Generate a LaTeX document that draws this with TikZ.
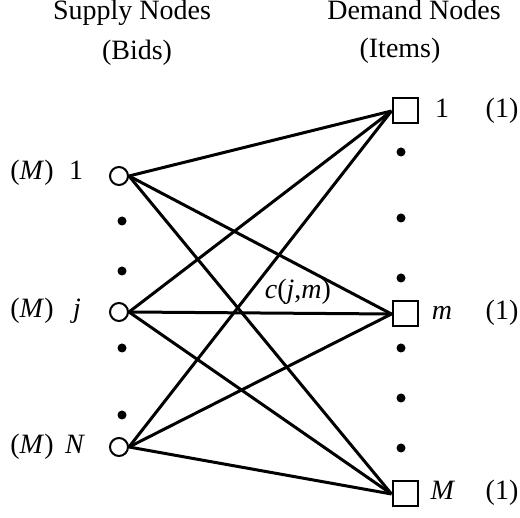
\documentclass[tikz,border=0pt]{standalone}
\usepackage{fontspec}
\setmainfont{Liberation Serif}
\usetikzlibrary{positioning}

\begin{document}
\begin{tikzpicture}[x=0.5pt,y=-0.5pt,
    font=\fontsize{14}{16}\selectfont,
    lab/.style={inner sep=0pt,text height=0.75em,text depth=0.25em},
    supply/.style={circle,draw,line width=1pt,minimum size=9pt,inner sep=0pt},
    demand/.style={rectangle,draw,line width=1pt,minimum size=12.5pt,inner sep=0pt},
    dotmark/.style={circle,fill,inner sep=0pt,minimum size=4.5pt},
    link/.style={line width=1.5pt}]
    \useasboundingbox (0,0) rectangle (520,518);

    % Column headings
    \node[lab] (supplyhead) at (132,15) {Supply Nodes};
    \node[lab] (bidshead) at (137,55) {(Bids)};
    \node[lab] (demandhead) at (414,15) {Demand Nodes};
    \node[lab] (itemshead) at (400,53) {(Items)};

    % Supply nodes (bids)
    \node[supply] (s1) at (119,176) {};
    \node[supply] (sj) at (119,312) {};
    \node[supply] (sN) at (119,447) {};
    \node[lab] (s1cap) at (32,175) {(\textit{M})};
    \node[lab] (s1num) at (76,175) {1};
    \node[lab] (sjcap) at (32,313) {(\textit{M})};
    \node[lab] (sjnum) at (77,313) {\textit{j}};
    \node[lab] (sNcap) at (32,448) {(\textit{M})};
    \node[lab] (sNnum) at (75,448) {\textit{N}};

    % Dots between supply nodes
    \node[dotmark] (ldot1) at (122,221) {};
    \node[dotmark] (ldot2) at (122,271) {};
    \node[dotmark] (ldot3) at (122,348) {};
    \node[dotmark] (ldot4) at (122,415) {};

    % Demand nodes (items)
    \node[demand] (d1) at (405,111) {};
    \node[demand] (dm) at (405,314) {};
    \node[demand] (dM) at (405,494) {};
    \node[lab] (d1num) at (442,113) {1};
    \node[lab] (d1cap) at (502,113) {(1)};
    \node[lab] (dmnum) at (442,315) {\textit{m}};
    \node[lab] (dmcap) at (502,315) {(1)};
    \node[lab] (dMnum) at (443,495) {\textit{M}};
    \node[lab] (dMcap) at (502,495) {(1)};

    % Dots between demand nodes
    \node[dotmark] (rdot1) at (401,152) {};
    \node[dotmark] (rdot2) at (401,218) {};
    \node[dotmark] (rdot3) at (401,278) {};
    \node[dotmark] (rdot4) at (401,348) {};
    \node[dotmark] (rdot5) at (401,398) {};
    \node[dotmark] (rdot6) at (401,448) {};

    % Arcs from every bid to every item
    \draw[link] (s1.east) -- (d1.west);
    \draw[link] (s1.east) -- (dm.west);
    \draw[link] (s1.east) -- (dM.west);
    \draw[link] (sj.east) -- (d1.west);
    \draw[link] (sj.east) -- (dm.west);
    \draw[link] (sj.east) -- (dM.west);
    \draw[link] (sN.east) -- (d1.west);
    \draw[link] (sN.east) -- (dm.west);
    \draw[link] (sN.east) -- (dM.west);

    % Arc cost label
    \node[lab] (cost) at (298,294) {\textit{c}(\textit{j},\textit{m})};
\end{tikzpicture}
\end{document}
